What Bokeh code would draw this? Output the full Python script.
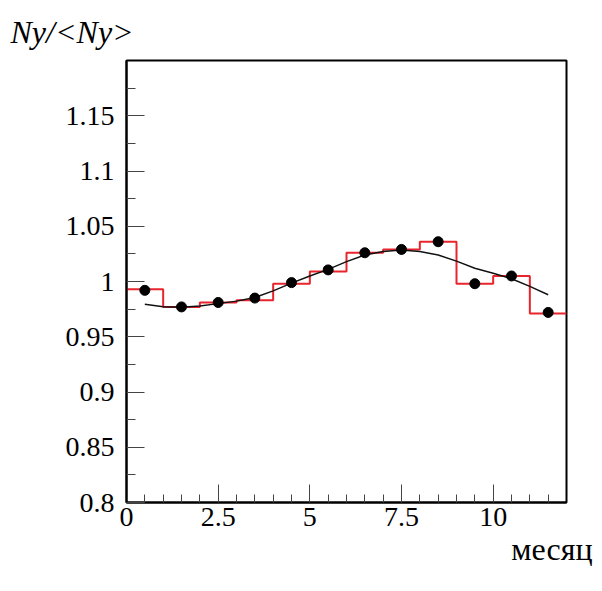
from bokeh.plotting import figure
from bokeh.models import Range1d, FixedTicker, Title
from bokeh.embed import file_html
from bokeh.resources import INLINE

# Monthly normalised counts (bin edges 0..12, one bin per month)
bin_edges = [0, 1, 2, 3, 4, 5, 6, 7, 8, 9, 10, 11, 12]
hist_values = [0.993, 0.977, 0.981, 0.983, 0.998, 1.009, 1.026, 1.029, 1.036, 0.998, 1.005, 0.971]

# Data points at bin centres
point_x = [0.5, 1.5, 2.5, 3.5, 4.5, 5.5, 6.5, 7.5, 8.5, 9.5, 10.5, 11.5]
point_y = [0.992, 0.977, 0.981, 0.985, 0.999, 1.0105, 1.026, 1.029, 1.036, 0.998, 1.005, 0.972]

# Fitted seasonal curve
fit_x = [0.5, 1.0, 1.5, 2.0, 2.5, 3.0, 3.5, 4.0, 4.5, 5.0, 5.5, 6.0,
         6.5, 7.0, 7.5, 8.0, 8.5, 9.0, 9.5, 10.0, 10.5, 11.0, 11.5]
fit_y = [0.9794, 0.9772, 0.9767, 0.9778, 0.9800, 0.9822, 0.9855, 0.9915, 0.9985, 1.0050,
         1.0110, 1.0180, 1.0240, 1.0272, 1.0285, 1.0272, 1.0240, 1.0185, 1.0120, 1.0075,
         1.0025, 0.9955, 0.9880]

y_ticks = [0.8, 0.85, 0.9, 0.95, 1.0, 1.05, 1.1, 1.15]
y_tick_labels = ["0.8", "0.85", "0.9", "0.95", "1", "1.05", "1.1", "1.15"]
y_minor = [0.825, 0.875, 0.925, 0.975, 1.025, 1.075, 1.125, 1.175]
x_ticks = [0, 2.5, 5, 7.5, 10]
x_tick_labels = ["0", "2.5", "5", "7.5", "10"]
x_minor = [0.5, 1, 1.5, 2, 3, 3.5, 4, 4.5, 5.5, 6, 6.5, 7, 8, 8.5, 9, 9.5, 10.5, 11, 11.5]

SERIF = "Liberation Serif"

p = figure(width=602, height=591, output_backend="svg", toolbar_location=None,
           x_range=Range1d(0, 12), y_range=Range1d(0.8, 1.2))
p.min_border_left = 126
p.min_border_right = 36
p.min_border_top = 0
p.min_border_bottom = 89
p.background_fill_color = "white"
p.border_fill_color = "white"
p.grid.visible = False
p.outline_line_color = "black"
p.outline_line_width = 2

# y-axis title, left-aligned above the frame
p.add_layout(Title(text="Ny/<Ny>", align="left", offset=-116, text_font=SERIF,
                   text_font_style="italic", text_font_size="32px",
                   text_color="black", standoff=22), "above")

for ax in (p.xaxis, p.yaxis):
    ax.axis_line_color = "black"
    ax.axis_line_width = 2
    ax.major_tick_line_color = "#444444"
    ax.minor_tick_line_color = "#444444"
    ax.major_tick_line_width = 1
    ax.minor_tick_line_width = 1
    ax.major_tick_out = 0
    ax.minor_tick_out = 0
    ax.major_label_text_font = SERIF
    ax.major_label_text_font_size = "28px"
    ax.major_label_text_color = "black"

p.yaxis.ticker = FixedTicker(ticks=y_ticks, minor_ticks=y_minor)
p.yaxis.major_label_overrides = dict(zip(y_ticks, y_tick_labels))
p.yaxis.major_tick_in = 18
p.yaxis.minor_tick_in = 9
p.yaxis.major_label_standoff = 12

p.xaxis.ticker = FixedTicker(ticks=x_ticks, minor_ticks=x_minor)
p.xaxis.major_label_overrides = dict(zip(x_ticks, x_tick_labels))
p.xaxis.major_tick_in = 18
p.xaxis.minor_tick_in = 8
p.xaxis.major_label_standoff = 5

# x-axis title, right-aligned below the axis
p.add_layout(Title(text="месяц", align="right", offset=-26, text_font=SERIF,
                   text_font_style="normal", text_font_size="32px",
                   text_color="black", standoff=0), "below")

# Histogram outline
step_y = hist_values + [hist_values[-1]]
p.step(x=bin_edges, y=step_y, mode="after", line_color="#e8242c", line_width=2)

# Fit curve
p.line(x=fit_x, y=fit_y, line_color="#111111", line_width=1.4)

# Points
p.scatter(x=point_x, y=point_y, size=10, color="black")

open("out.html", "w").write(file_html(p, INLINE))
